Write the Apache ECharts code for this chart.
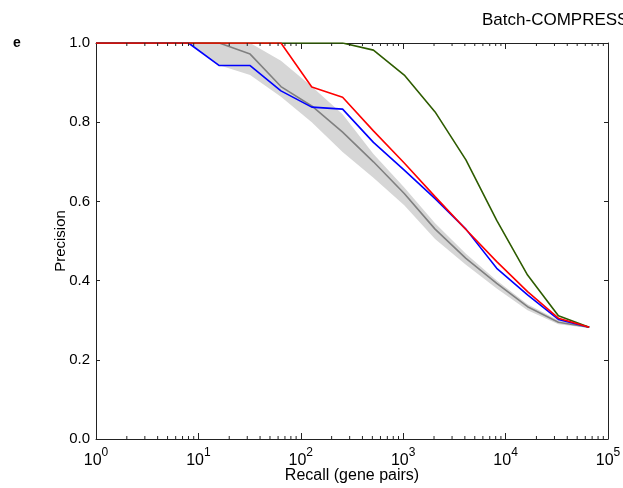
<!DOCTYPE html>
<html><head><meta charset="utf-8">
<script src="https://cdn.jsdelivr.net/npm/echarts@6/dist/echarts.min.js"></script>
<style>html,body{margin:0;padding:0;background:#fff}#c{width:623px;height:488px}</style>
</head><body><div id="c"></div>
<script>
const recall = [1,2,4,8,16,32,64,128,256,512,1024,2048,4096,8192,16384,32768,65536];
const redVals   = [1,1,1,1,1,1,1,0.889,0.863,0.778,0.697,0.612,0.529,0.448,0.372,0.305,0.282];
const blueVals  = [1,1,1,1,0.943,0.943,0.879,0.838,0.833,0.749,0.679,0.607,0.530,0.431,0.364,0.302,0.282];
const greenVals = [1,1,1,1,1,1,1,1,1,0.982,0.919,0.826,0.705,0.552,0.414,0.311,0.282];
const grayMean  = [1,1,1,1,1,0.972,0.890,0.841,0.775,0.700,0.620,0.530,0.456,0.393,0.334,0.295,0.282];
const bandUpper = [1,1,1,1,1,1,0.955,0.890,0.820,0.720,0.635,0.545,0.468,0.400,0.340,0.300,0.283];
const bandLower = [1,1,1,1,0.944,0.919,0.864,0.800,0.725,0.660,0.590,0.505,0.440,0.380,0.325,0.290,0.280];
const xTickExps = ['0','1','2','3','4','5'];
const yTickLabels = ['0.0','0.2','0.4','0.6','0.8','1.0'];
const minorTicks = [];
[1,10,100,1000,10000].forEach(d => { for (let m = 2; m <= 9; m++) minorTicks.push(m*d); });

const pairs = v => recall.map((x,i) => [x, v[i]]);
const font = '"Liberation Sans", Arial, sans-serif';
const axisCol = '#222';

const chart = echarts.init(document.getElementById('c'), null, {renderer:'canvas'});
chart.setOption({
  animation:false,
  backgroundColor:'#fff',
  grid:{left:96, right:15, top:43, bottom:49, containLabel:false, outerBoundsMode:'none'},
  graphic:[
    {type:'text', left:13, top:36, style:{text:'e', font:'bold 14px '+font, fill:'#000'}},
    {type:'text', left:482, top:12, style:{text:'Batch-COMPRESS', font:'17px '+font, fill:'#000'}}
  ],
  xAxis:[{
    type:'log', logBase:10, min:1, max:100000, position:'bottom',
    name:'Recall (gene pairs)', nameLocation:'middle', nameGap:29, nameMoveOverlap:false,
    nameTextStyle:{fontFamily:font, fontSize:16, color:'#000'},
    axisLine:{show:true, onZero:false, lineStyle:{color:axisCol, width:1}},
    axisTick:{show:true, inside:true, length:6, lineStyle:{color:axisCol}},
    splitLine:{show:false},
    axisLabel:{margin:8, formatter:v => {const i = Math.round(Math.log10(v)); return '{a|10}{b|'+xTickExps[i]+'}';},
      rich:{a:{fontFamily:font, fontSize:16, color:'#000', verticalAlign:'bottom', lineHeight:22},
            b:{fontFamily:font, fontSize:12, color:'#000', verticalAlign:'top', lineHeight:22, padding:[0,0,10,0]}}}
  },{
    type:'log', logBase:10, min:1, max:100000, position:'top',
    axisLine:{show:true, onZero:false, lineStyle:{color:axisCol, width:1}},
    axisTick:{show:true, inside:true, length:6, lineStyle:{color:axisCol}},
    axisLabel:{show:false}, splitLine:{show:false}
  }],
  yAxis:[{
    type:'value', min:0, max:1, interval:0.2, position:'left',
    name:'Precision', nameLocation:'middle', nameGap:28, nameMoveOverlap:false,
    nameTextStyle:{fontFamily:font, fontSize:15, color:'#000'},
    axisLine:{show:true, onZero:false, lineStyle:{color:axisCol, width:1}},
    axisTick:{show:true, inside:true, length:4, lineStyle:{color:axisCol}},
    splitLine:{show:false},
    axisLabel:{margin:6, fontFamily:font, fontSize:15, color:'#000', formatter:(v) => yTickLabels[Math.round(v*5)]}
  },{
    type:'value', min:0, max:1, interval:0.2, position:'right',
    axisLine:{show:true, onZero:false, lineStyle:{color:axisCol, width:1}},
    axisTick:{show:true, inside:true, length:4, lineStyle:{color:axisCol}},
    axisLabel:{show:false}, splitLine:{show:false}
  }],
  series:[
    {type:'custom', silent:true, z:1, encode:{x:0, y:1},
      data:pairs(bandUpper),
      renderItem:(params, api) => {
        if (params.dataIndex !== 0) return null;
        const pts = [];
        recall.forEach((x,i) => pts.push(api.coord([x, bandUpper[i]])));
        for (let i = recall.length-1; i >= 0; i--) pts.push(api.coord([recall[i], bandLower[i]]));
        return {type:'polygon', shape:{points:pts}, style:{fill:'#d6d6d6'}};
      }},
    {type:'line', data:pairs(grayMean), symbol:'none', lineStyle:{color:'#808080', width:1.6}, z:2},
    {type:'line', data:pairs(blueVals), symbol:'none', lineStyle:{color:'#0000ff', width:1.6}, z:3},
    {type:'line', data:pairs(greenVals), symbol:'none', lineStyle:{color:'#2e5c00', width:1.6}, z:4},
    {type:'line', data:pairs(redVals), symbol:'none', lineStyle:{color:'#ff0000', width:1.6}, z:5},
    {type:'custom', silent:true, z:10, clip:false, encode:{x:0, y:1},
      data:minorTicks.map(v=>[v,0]),
      renderItem:(params, api) => {
        const v = api.value(0);
        const b = api.coord([v, 0]);
        const t = api.coord([v, 1]);
        return {type:'group', children:[
          {type:'line', shape:{x1:b[0], y1:b[1], x2:b[0], y2:b[1]-3}, style:{stroke:axisCol, lineWidth:1}},
          {type:'line', shape:{x1:t[0], y1:t[1], x2:t[0], y2:t[1]+3}, style:{stroke:axisCol, lineWidth:1}}
        ]};
      }}
  ]
});
</script></body></html>
